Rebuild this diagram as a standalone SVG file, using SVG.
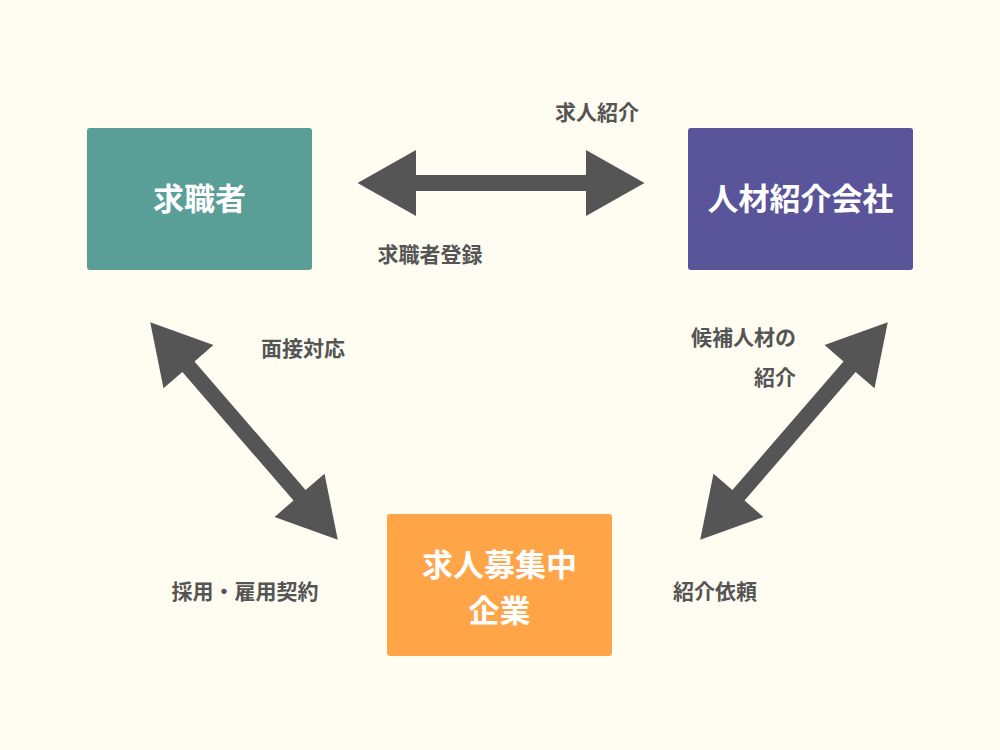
<svg xmlns="http://www.w3.org/2000/svg" xmlns:xlink="http://www.w3.org/1999/xlink" width="1000" height="750" viewBox="0 0 1000 750">
<style>
.t{font-family:"Noto Sans CJK JP","Noto Sans",sans-serif;font-weight:bold;}
.n{fill:#fff;font-size:31px;text-anchor:middle;}
.l{fill:#555;font-size:21px;}
.a{fill:#555;}
</style>
<defs>
<polygon id="arr" class="a" points="-143.5,0 -85,-33 -85,-8 85,-8 85,-33 143.5,0 85,33 85,8 -85,8 -85,33"/>
</defs>
<rect width="1000" height="750" fill="#fffdf2"/>
<g id="connectors">
<use xlink:href="#arr" transform="translate(501,183)"/>
<use xlink:href="#arr" transform="translate(244,431) rotate(49.2)"/>
<use xlink:href="#arr" transform="translate(794,431) rotate(130.8)"/>
</g>
<g id="job-seeker"><rect x="87" y="128" width="225" height="142" rx="3" fill="#5a9e98"/><text class="t n" x="199.5" y="210">求職者</text></g>
<g id="agency"><rect x="688" y="128" width="225" height="142" rx="3" fill="#5a559b"/><text class="t n" x="800.5" y="210">人材紹介会社</text></g>
<g id="company"><rect x="387" y="514" width="225" height="142" rx="3" fill="#ffa447"/><text class="t n" x="499.5" y="576">求人募集中</text><text class="t n" x="499.5" y="622">企業</text></g>
<g id="labels">
<text class="t l" x="597" y="120" text-anchor="middle">求人紹介</text>
<text class="t l" x="430" y="262" text-anchor="middle">求職者登録</text>
<text class="t l" x="303" y="356" text-anchor="middle">面接対応</text>
<text class="t l" x="796" y="345" text-anchor="end">候補人材の</text>
<text class="t l" x="796" y="385" text-anchor="end">紹介</text>
<text class="t l" x="245" y="599" text-anchor="middle">採用・雇用契約</text>
<text class="t l" x="715" y="599" text-anchor="middle">紹介依頼</text>
</g>
</svg>
